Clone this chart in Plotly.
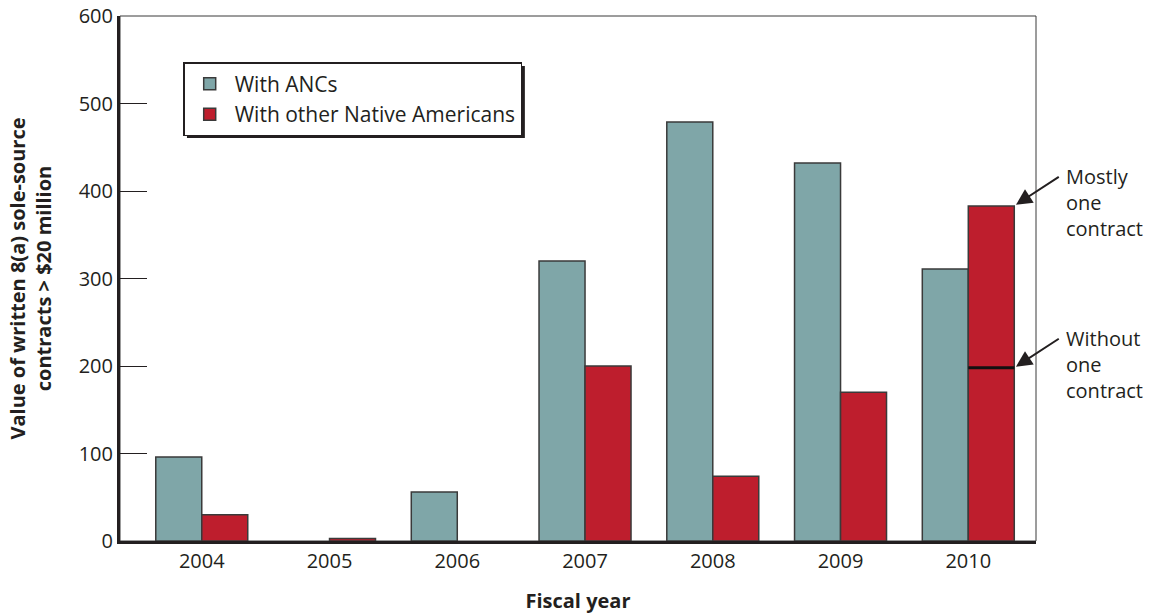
import plotly.graph_objects as go

# Fiscal years and contract values ($ millions)
years = ["2004", "2005", "2006", "2007", "2008", "2009", "2010"]
anc_values = [96, 0, 56, 320, 479, 432, 311]
other_native_values = [30, 3, 0, 200, 74, 170, 383]
without_one_contract_2010 = 198

y_ticks = [0, 100, 200, 300, 400, 500, 600]

teal = "#7FA6A8"
red = "#BE1E2D"
outline = "#3a3a3a"
ink = "#231F20"
font_family = "Open Sans, Noto Sans, sans-serif"
fs = 20

x_pos = list(range(len(years)))
bargap = 0.28
bar_w = (1 - bargap) / 2


def outline_widths(values):
    # no outline for empty bars so they leave no sliver on the axis
    return [1.5 if v > 0 else 0 for v in values]


fig = go.Figure()
fig.add_trace(go.Bar(
    x=x_pos, y=anc_values, name="With ANCs",
    marker=dict(color=teal, line=dict(color=outline, width=outline_widths(anc_values))),
))
fig.add_trace(go.Bar(
    x=x_pos, y=other_native_values, name="With other Native Americans",
    marker=dict(color=red, line=dict(color=outline, width=outline_widths(other_native_values))),
))

# Divider on the 2010 red bar marking the value without the one large contract
i2010 = years.index("2010")
fig.add_shape(
    type="line", xref="x", yref="y",
    x0=i2010, x1=i2010 + bar_w,
    y0=without_one_contract_2010, y1=without_one_contract_2010,
    line=dict(color="#111111", width=3),
)

# Thin frame around the plot area
fig.add_shape(type="rect", xref="paper", yref="paper", x0=0, x1=1, y0=0, y1=1,
              line=dict(color=outline, width=1), layer="below")

# Drop shadow behind the legend
fig.add_shape(type="rect", xref="paper", yref="paper",
              x0=0.0731, x1=0.442, y0=0.7676, y1=0.9048,
              line=dict(width=0), fillcolor="#231F20", layer="below")

# Callouts on the 2010 bar
callouts = [
    (other_native_values[i2010], "Mostly<br>one<br>contract"),
    (without_one_contract_2010, "Without<br>one<br>contract"),
]
for yv, label in callouts:
    fig.add_annotation(
        x=i2010 + bar_w, y=yv, xref="x", yref="y",
        text="", showarrow=True, arrowhead=2, arrowsize=1.6, arrowwidth=2,
        arrowcolor=ink, ax=46, ay=-30, standoff=2,
    )
    fig.add_annotation(
        x=1.0, y=yv, xref="paper", yref="y",
        xanchor="left", yanchor="middle", xshift=28, yshift=3,
        text=label, showarrow=False, align="left",
        font=dict(family=font_family, size=fs, color=ink),
    )

fig.update_layout(
    width=1154, height=614,
    margin=dict(l=120, r=118, t=16, b=73, autoexpand=False),
    paper_bgcolor="white", plot_bgcolor="white",
    barmode="group", bargap=bargap, bargroupgap=0,
    font=dict(family=font_family, size=fs, color=ink),
    showlegend=True,
    legend=dict(
        x=0.069, y=0.912, xanchor="left", yanchor="top",
        bgcolor="white", bordercolor=ink, borderwidth=1.5,
        font=dict(family=font_family, size=21, color=ink),
        tracegroupgap=0, itemwidth=40,
    ),
    xaxis=dict(
        tickmode="array", tickvals=x_pos, ticktext=years,
        range=[-0.64, 6.53], showgrid=False, zeroline=False,
        showline=True, linecolor=ink, linewidth=3, ticks="",
        title=dict(text="<b>Fiscal year</b>", font=dict(size=fs), standoff=21),
        automargin=False, fixedrange=True,
    ),
    yaxis=dict(
        tickmode="array", tickvals=y_ticks, range=[0, 600],
        showgrid=False, zeroline=False,
        showline=True, linecolor=ink, linewidth=3,
        ticks="inside", ticklen=27, tickwidth=1, tickcolor=ink,
        title=dict(text="<b>Value of written 8(a) sole-source<br>contracts > $20 million</b>",
                   font=dict(size=fs), standoff=22),
        automargin=False, fixedrange=True,
    ),
)

fig.write_html("out.html")
